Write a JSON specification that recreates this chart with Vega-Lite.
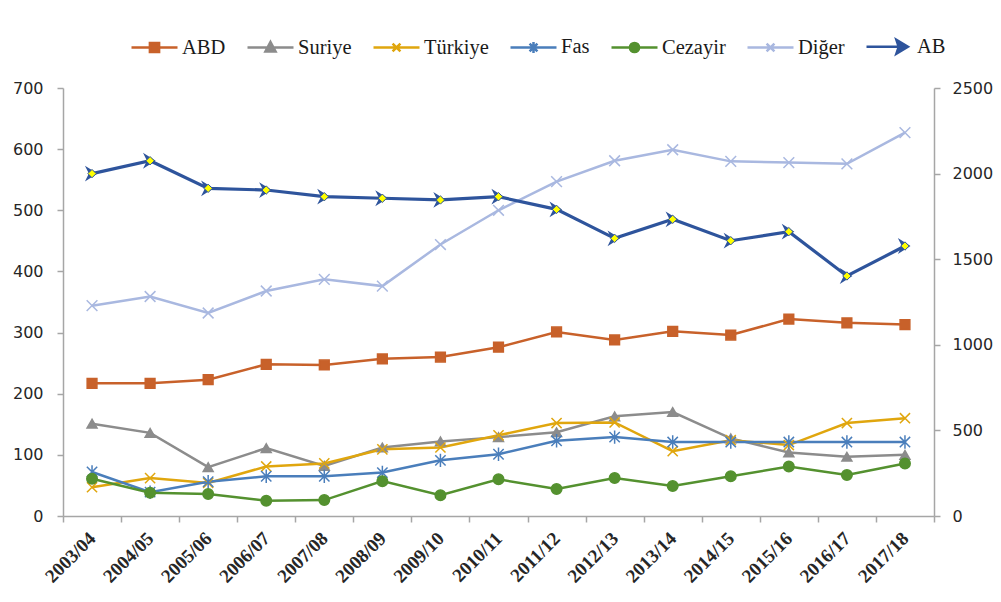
{
  "$schema": "https://vega.github.io/schema/vega-lite/v6.json",
  "width": 871,
  "height": 428,
  "autosize": {"type": "none"},
  "padding": {"left": 63, "top": 88, "right": 67, "bottom": 86},
  "background": "white",
  "config": {
    "view": {"stroke": null},
    "axis": {"grid": false, "domainColor": "#A6A6A6", "domainWidth": 1.5, "tickColor": "#A6A6A6", "tickWidth": 1.5, "tickSize": 6, "labelColor": "#262626", "titleColor": "#262626"}
  },
  "datasets": {
    "main": [
      {"year": "2003/04", "series": "ABD", "value": 217},
      {"year": "2004/05", "series": "ABD", "value": 217},
      {"year": "2005/06", "series": "ABD", "value": 223},
      {"year": "2006/07", "series": "ABD", "value": 248},
      {"year": "2007/08", "series": "ABD", "value": 247},
      {"year": "2008/09", "series": "ABD", "value": 257},
      {"year": "2009/10", "series": "ABD", "value": 260},
      {"year": "2010/11", "series": "ABD", "value": 276},
      {"year": "2011/12", "series": "ABD", "value": 301},
      {"year": "2012/13", "series": "ABD", "value": 288},
      {"year": "2013/14", "series": "ABD", "value": 302},
      {"year": "2014/15", "series": "ABD", "value": 296},
      {"year": "2015/16", "series": "ABD", "value": 322},
      {"year": "2016/17", "series": "ABD", "value": 316},
      {"year": "2017/18", "series": "ABD", "value": 313},
      {"year": "2003/04", "series": "Suriye", "value": 151},
      {"year": "2004/05", "series": "Suriye", "value": 136},
      {"year": "2005/06", "series": "Suriye", "value": 80},
      {"year": "2006/07", "series": "Suriye", "value": 111},
      {"year": "2007/08", "series": "Suriye", "value": 82},
      {"year": "2008/09", "series": "Suriye", "value": 112},
      {"year": "2009/10", "series": "Suriye", "value": 122},
      {"year": "2010/11", "series": "Suriye", "value": 129},
      {"year": "2011/12", "series": "Suriye", "value": 137},
      {"year": "2012/13", "series": "Suriye", "value": 163},
      {"year": "2013/14", "series": "Suriye", "value": 170},
      {"year": "2014/15", "series": "Suriye", "value": 127},
      {"year": "2015/16", "series": "Suriye", "value": 104},
      {"year": "2016/17", "series": "Suriye", "value": 97},
      {"year": "2017/18", "series": "Suriye", "value": 100},
      {"year": "2003/04", "series": "Türkiye", "value": 47},
      {"year": "2004/05", "series": "Türkiye", "value": 62},
      {"year": "2005/06", "series": "Türkiye", "value": 54},
      {"year": "2006/07", "series": "Türkiye", "value": 81},
      {"year": "2007/08", "series": "Türkiye", "value": 86},
      {"year": "2008/09", "series": "Türkiye", "value": 109},
      {"year": "2009/10", "series": "Türkiye", "value": 112},
      {"year": "2010/11", "series": "Türkiye", "value": 132},
      {"year": "2011/12", "series": "Türkiye", "value": 152},
      {"year": "2012/13", "series": "Türkiye", "value": 153},
      {"year": "2013/14", "series": "Türkiye", "value": 106},
      {"year": "2014/15", "series": "Türkiye", "value": 124},
      {"year": "2015/16", "series": "Türkiye", "value": 116},
      {"year": "2016/17", "series": "Türkiye", "value": 152},
      {"year": "2017/18", "series": "Türkiye", "value": 160},
      {"year": "2003/04", "series": "Fas", "value": 72},
      {"year": "2004/05", "series": "Fas", "value": 39},
      {"year": "2005/06", "series": "Fas", "value": 56},
      {"year": "2006/07", "series": "Fas", "value": 65},
      {"year": "2007/08", "series": "Fas", "value": 65},
      {"year": "2008/09", "series": "Fas", "value": 71},
      {"year": "2009/10", "series": "Fas", "value": 91},
      {"year": "2010/11", "series": "Fas", "value": 101},
      {"year": "2011/12", "series": "Fas", "value": 123},
      {"year": "2012/13", "series": "Fas", "value": 129},
      {"year": "2013/14", "series": "Fas", "value": 121},
      {"year": "2014/15", "series": "Fas", "value": 121},
      {"year": "2015/16", "series": "Fas", "value": 121},
      {"year": "2016/17", "series": "Fas", "value": 121},
      {"year": "2017/18", "series": "Fas", "value": 121},
      {"year": "2003/04", "series": "Cezayir", "value": 61},
      {"year": "2004/05", "series": "Cezayir", "value": 38},
      {"year": "2005/06", "series": "Cezayir", "value": 36},
      {"year": "2006/07", "series": "Cezayir", "value": 25},
      {"year": "2007/08", "series": "Cezayir", "value": 26},
      {"year": "2008/09", "series": "Cezayir", "value": 57},
      {"year": "2009/10", "series": "Cezayir", "value": 34},
      {"year": "2010/11", "series": "Cezayir", "value": 60},
      {"year": "2011/12", "series": "Cezayir", "value": 44},
      {"year": "2012/13", "series": "Cezayir", "value": 62},
      {"year": "2013/14", "series": "Cezayir", "value": 49},
      {"year": "2014/15", "series": "Cezayir", "value": 65},
      {"year": "2015/16", "series": "Cezayir", "value": 81},
      {"year": "2016/17", "series": "Cezayir", "value": 67},
      {"year": "2017/18", "series": "Cezayir", "value": 86},
      {"year": "2003/04", "series": "Diğer", "value": 344},
      {"year": "2004/05", "series": "Diğer", "value": 359},
      {"year": "2005/06", "series": "Diğer", "value": 332},
      {"year": "2006/07", "series": "Diğer", "value": 368},
      {"year": "2007/08", "series": "Diğer", "value": 387},
      {"year": "2008/09", "series": "Diğer", "value": 376},
      {"year": "2009/10", "series": "Diğer", "value": 444},
      {"year": "2010/11", "series": "Diğer", "value": 500},
      {"year": "2011/12", "series": "Diğer", "value": 547},
      {"year": "2012/13", "series": "Diğer", "value": 581},
      {"year": "2013/14", "series": "Diğer", "value": 599},
      {"year": "2014/15", "series": "Diğer", "value": 580},
      {"year": "2015/16", "series": "Diğer", "value": 578},
      {"year": "2016/17", "series": "Diğer", "value": 576},
      {"year": "2017/18", "series": "Diğer", "value": 627},
      {"year": "2003/04", "series": "AB", "value": 2000},
      {"year": "2004/05", "series": "AB", "value": 2075},
      {"year": "2005/06", "series": "AB", "value": 1914},
      {"year": "2006/07", "series": "AB", "value": 1904},
      {"year": "2007/08", "series": "AB", "value": 1865},
      {"year": "2008/09", "series": "AB", "value": 1856},
      {"year": "2009/10", "series": "AB", "value": 1846},
      {"year": "2010/11", "series": "AB", "value": 1865},
      {"year": "2011/12", "series": "AB", "value": 1791},
      {"year": "2012/13", "series": "AB", "value": 1622},
      {"year": "2013/14", "series": "AB", "value": 1733},
      {"year": "2014/15", "series": "AB", "value": 1608},
      {"year": "2015/16", "series": "AB", "value": 1661},
      {"year": "2016/17", "series": "AB", "value": 1402},
      {"year": "2017/18", "series": "AB", "value": 1577}
    ]
  },
  "data": {"name": "main"},
  "encoding": {
    "x": {
      "field": "year", "type": "ordinal", "sort": null,
      "scale": {"type": "band", "paddingInner": 0, "paddingOuter": 0},
      "axis": {"title": null, "tickBand": "extent", "labelAngle": -45, "labelAlign": "right", "labelBaseline": "middle", "labelFont": "Liberation Serif", "labelFontSize": 19, "labelFontWeight": "bold", "labelColor": "#262626", "labelPadding": 13}
    }
  },
  "layer": [
    {
      "transform": [{"filter": "datum.series !== 'AB'"}],
      "encoding": {
        "y": {
          "field": "value", "type": "quantitative",
          "scale": {"domain": [0, 700]},
          "axis": {"title": null, "values": [0, 100, 200, 300, 400, 500, 600, 700], "labelFont": "DejaVu Sans", "labelFontSize": 16, "labelPadding": 14}
        }
      },
      "layer": [
        {
          "mark": {"type": "line", "strokeWidth": 2.5},
          "encoding": {
            "color": {
              "field": "series", "type": "nominal",
              "scale": {
                "domain": ["ABD", "Suriye", "Türkiye", "Fas", "Cezayir", "Diğer", "AB"],
                "range": ["#C8612A", "#8C8C8C", "#E0A60E", "#4A7EBB", "#54912F", "#A9B8E0", "#2E549C"]
              },
              "legend": {
                "title": null, "orient": "none", "legendX": 67, "legendY": -66, "direction": "horizontal",
                "labelFont": "Liberation Serif", "labelFontSize": 20.5, "labelColor": "#1a1a1a", "labelOffset": 3,
                "symbolSize": 2116, "columnPadding": 16,
                "encode": {
                  "symbols": {
                    "update": {
                      "shape": {"signal": "datum.value === 'ABD' ? 'M-1,0L1,0M-0.2,-0.2L0.2,-0.2L0.2,0.2L-0.2,0.2Z' : datum.value === 'Suriye' ? 'M-1,0L1,0M0,-0.24L0.22,0.17L-0.22,0.17Z' : datum.value === 'Türkiye' || datum.value === 'Diğer' ? 'M-1,0L1,0M-0.17,-0.17L0.17,0.17M-0.17,0.17L0.17,-0.17' : datum.value === 'Fas' ? 'M-1,0L1,0M-0.17,-0.17L0.17,0.17M-0.17,0.17L0.17,-0.17M0,-0.24L0,0.24' : datum.value === 'Cezayir' ? 'M-1,0L1,0M0.2,0A0.2,0.2 0 1,1 -0.2,0A0.2,0.2 0 1,1 0.2,0Z' : 'M-1,0L0.7,0M0.3,-0.3L0.8,0L0.3,0.3L0.4,0Z'"},
                      "fill": {"scale": "color", "field": "value"},
                      "stroke": {"scale": "color", "field": "value"},
                      "strokeWidth": {"value": 2.5},
                      "size": {"value": 2116},
                      "opacity": {"value": 1}
                    }
                  }
                }
              }
            }
          }
        },
        {
          "mark": {"type": "point", "filled": true, "opacity": 1, "strokeWidth": 1.5},
          "encoding": {
            "shape": {
              "field": "series", "type": "nominal",
              "scale": {
                "domain": ["ABD", "Suriye", "Türkiye", "Fas", "Cezayir", "Diğer"],
                "range": ["square", "triangle-up", "M-1,-1L1,1M-1,1L1,-1", "M-1,-1L1,1M-1,1L1,-1M0,-1.3L0,1.3", "circle", "M-1,-1L1,1M-1,1L1,-1"]
              },
              "legend": null
            },
            "size": {
              "field": "series", "type": "nominal",
              "scale": {"domain": ["ABD", "Suriye", "Türkiye", "Fas", "Cezayir", "Diğer"], "range": [95, 115, 80, 70, 125, 70]},
              "legend": null
            },
            "color": {"field": "series", "type": "nominal"},
            "stroke": {"field": "series", "type": "nominal", "scale": {"domain": ["ABD", "Suriye", "Türkiye", "Fas", "Cezayir", "Diğer", "AB"], "range": ["#C8612A", "#8C8C8C", "#E0A60E", "#4A7EBB", "#54912F", "#A9B8E0", "#2E549C"]}, "legend": null}
          }
        }
      ]
    },
    {
      "transform": [{"filter": "datum.series === 'AB'"}],
      "encoding": {
        "y": {
          "field": "value", "type": "quantitative",
          "scale": {"domain": [0, 2500]},
          "axis": {"title": null, "orient": "right", "format": "d", "values": [0, 500, 1000, 1500, 2000, 2500], "labelFont": "DejaVu Sans", "labelFontSize": 16, "labelPadding": 12}
        }
      },
      "layer": [
        {
          "mark": {"type": "line", "strokeWidth": 3.2},
          "encoding": {"color": {"field": "series", "type": "nominal"}}
        },
        {
          "mark": {"type": "point", "filled": true, "opacity": 1, "shape": "M-0.9,-1L0.7,0L-0.9,1L-0.4,0Z", "size": 250, "color": "#2E549C"},
          "encoding": {}
        },
        {
          "mark": {"type": "point", "filled": true, "opacity": 1, "shape": "diamond", "size": 70, "fill": "#FFFF00", "stroke": "#2E549C", "strokeWidth": 1}
        }
      ]
    }
  ],
  "resolve": {"scale": {"y": "independent"}}
}
